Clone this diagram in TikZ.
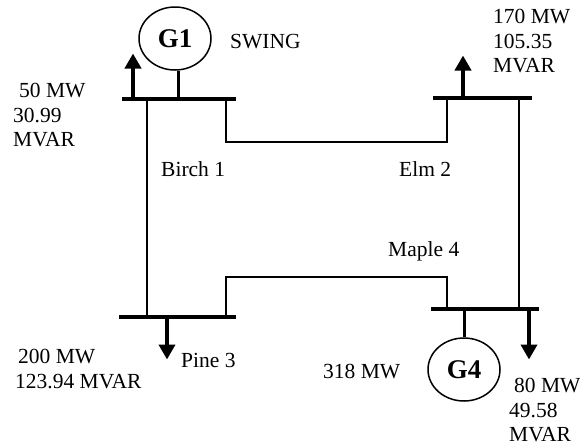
\documentclass[tikz,border=0pt]{standalone}
\usepackage{fontspec}
\setmainfont{Liberation Serif}
\usepackage{tikz}
\usetikzlibrary{shapes, positioning, arrows.meta}

\begin{document}
\begin{tikzpicture}[x=1pt, y=-1pt, node distance=100pt]
\tikzset{
  bus/.style={draw=none, fill=black, inner sep=0pt, minimum height=3.2pt},
  gen/.style={draw, ellipse, line width=1.5pt, inner sep=0pt, minimum width=72pt, minimum height=63pt, font=\fontsize{27}{29}\selectfont\bfseries},
  lbl/.style={draw=none, fill=none, inner sep=0pt, anchor=west, align=left, font=\fontsize{21.5}{24.5}\selectfont},
  tie/.style={line width=1.6pt},
  stem/.style={line width=3pt},
  load/.style={line width=4pt, -{Triangle[length=15pt, width=16pt]}, shorten >=-0.5pt}
}
\useasboundingbox (0,0) rectangle (580,445);

\node[bus, minimum width=114pt] (B1) at (179,99) {};
\node[bus, minimum width=99pt] (B2)[right of=B1, xshift=203.5pt, yshift=1pt] {};
\node[bus, minimum width=117pt] (B3)[below of=B1, xshift=-1.5pt, yshift=-118pt] {};
\node[bus, minimum width=108pt] (B4)[right of=B3, xshift=207.5pt, yshift=8pt] {};

\node[gen] (G1) at (175,38.5) {G1};
\node[gen] (G4) at (464,369.5) {G4};

\coordinate (T1) at (226,142);
\coordinate (T2) at (447,142);
\coordinate (T3) at (226,277);
\coordinate (T4) at (447,277);
\coordinate (L1) at (133,54);
\coordinate (L2) at (463,56);
\coordinate (L3) at (167,359);
\coordinate (L4) at (529,359);
\coordinate (S1) at (147,0);
\coordinate (S2) at (519,0);

\node[lbl, anchor=north west] (T50) at (13,83) {\hspace*{6pt}50 MW\\30.99\\MVAR};
\node[lbl] (TSWING) at (230,41.5) {SWING};
\node[lbl, anchor=north west] (T170) at (493,9) {170 MW\\105.35\\MVAR};
\node[lbl] (TBirch) at (161,169) {Birch 1};
\node[lbl] (TElm) at (399,169) {Elm 2};
\node[lbl] (TMaple) at (388,251) {Maple 4};
\node[lbl] (TPine) at (181,360.5) {Pine 3};
\node[lbl, anchor=north west] (T200) at (15,349) {\hspace*{3pt}200 MW\\123.94 MVAR};
\node[lbl] (T318) at (323,372) {318 MW};
\node[lbl, anchor=north west] (T80) at (509,378) {\hspace*{5pt}80 MW\\49.58\\MVAR};

\draw[tie] (S1 |- B1.south) -- (S1 |- B3.north);
\draw[tie] (S2 |- B2.south) -- (S2 |- B4.north);
\draw[tie] (T1 |- B1.south) -- (T1) -- (T2) -- (T2 |- B2.south);
\draw[tie] (T3 |- B3.north) -- (T3) -- (T4) -- (T4 |- B4.north);

\draw[stem] (G1.south -| 178,0) -- (178,0 |- B1.center);
\draw[stem] (G4.north) -- (G4.north |- B4.center);

\draw[load] (L1 |- B1.center) -- (L1);
\draw[load] (L2 |- B2.center) -- (L2);
\draw[load] (L3 |- B3.center) -- (L3);
\draw[load] (L4 |- B4.center) -- (L4);
\end{tikzpicture}
\end{document}
